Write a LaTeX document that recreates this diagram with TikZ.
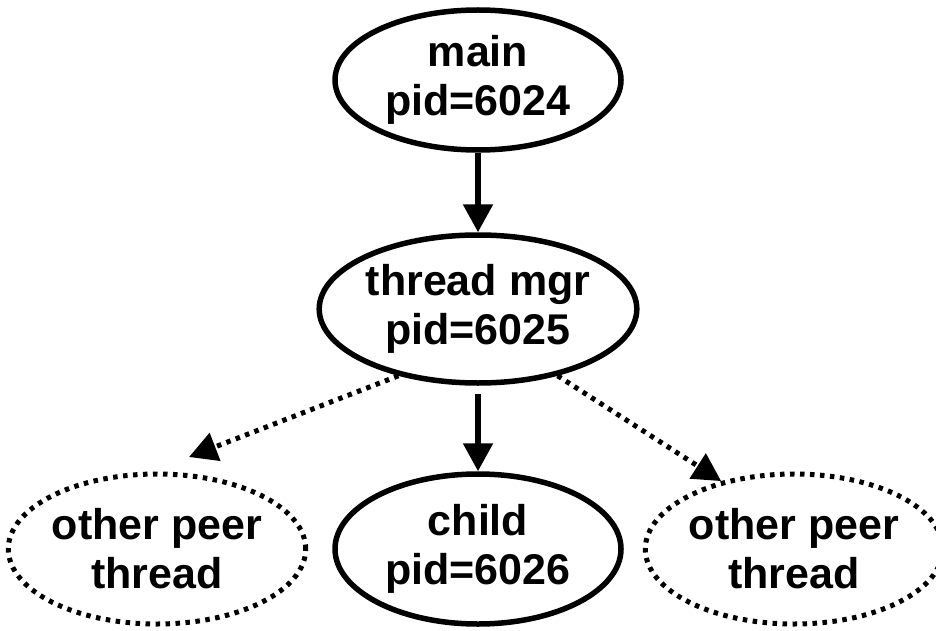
\documentclass[tikz,border=0pt]{standalone}
\usepackage{fontspec}
\setmainfont{Liberation Sans}
\usetikzlibrary{shapes.geometric,arrows.meta}

\tikzset{
  proc/.style={ellipse, draw, line width=5.5pt, inner sep=0pt,
    minimum width=286pt, minimum height=146pt, align=center,
    font=\fontsize{43}{49}\selectfont\bfseries},
  peer/.style={proc, line width=5pt, dash pattern=on 4.5pt off 5.5pt},
  spawn/.style={line width=5.5pt, -{Triangle[width=29pt,length=28pt]}},
  peerlink/.style={line width=5pt, dash pattern=on 4.5pt off 5.5pt,
    -{Triangle[width=29pt,length=28pt]}}
}

\begin{document}
\begin{tikzpicture}[x=1pt,y=-1pt]
  \useasboundingbox (0,0) rectangle (936,631);

  % processes
  \node[proc, minimum height=140pt] (main) at (478,80) {main\\pid=6024};
  \node[proc, minimum height=148pt] (mgr) at (478,309) {thread mgr\\pid=6025};
  \node[proc, minimum height=150pt] (child) at (478,549) {child\\pid=6026};

  % peer threads
  \node[peer, minimum height=150pt] (peerL) at (157,549) {other peer\\thread};
  \node[peer, minimum width=280pt, minimum height=150pt] (peerR) at (794,549) {other peer\\thread};

  \coordinate (peerLtip) at (189,457);

  % creation links
  \draw[spawn] (main.south) -- (mgr.north);
  \draw[spawn, shorten <=8pt] (mgr.south) -- (child.north);
  \draw[peerlink] (mgr.220) -- (peerLtip);
  \draw[peerlink] (mgr.320) -- (peerR.137);
\end{tikzpicture}
\end{document}
